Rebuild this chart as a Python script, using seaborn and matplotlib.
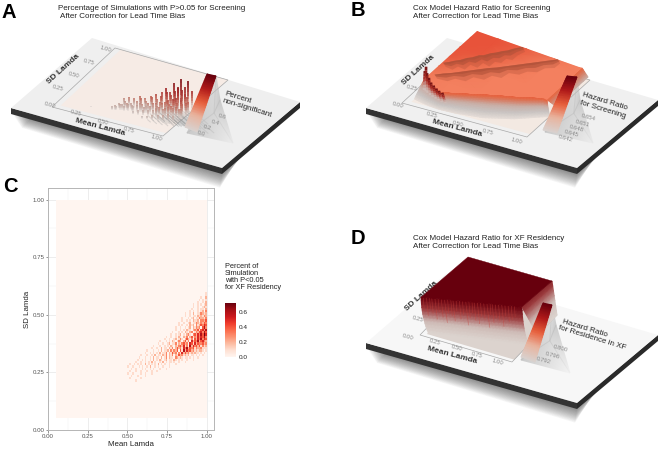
import numpy as np
import pandas as pd
import matplotlib
matplotlib.use("Agg")
import matplotlib.pyplot as plt
from matplotlib.collections import LineCollection
from matplotlib.colors import LinearSegmentedColormap as LSC
from matplotlib.patches import Polygon
import seaborn as sns

sns.set_theme(style="white")
plt.rcParams["font.family"] = ["Liberation Sans", "DejaVu Sans"]

# ---------- data ----------
TICKS = [0.00, 0.25, 0.50, 0.75, 1.00]
TICK_LABELS = ["0.00", "0.25", "0.50", "0.75", "1.00"]

# Panel C: percent (x10) per cell; rows are SD 0.60 down to 0.22, columns right-aligned ending at mean 1.00
C_ROWS = [
 "1", "01", "1002", "10101", "0100102", "100101012", "0100100121", "1000101102", "0010100101203",
 "10010200113212", "010010110212132", "1000101201132213", "01001010211203324", "100100120113213243",
 "0101001021203124354", "10010010120213230463", "010010102110232414536", "1000101021023013245364",
 "010010120102310342536475",
 "10010010210213024132535463",
 "0100100120131024213042536354",
 "100010102101320241305243624532",
 "01001001201130213423054152433423",
 "1000100101021021342513062534241312",
 "010010020110213024231536243413223111",
 "10001001020112031324041625342312122101",
 "0100101010201130214230315242312121101010",
 "100010010201102130213021423121201101010100",
 "01000100102011020130211032121011010100100000",
 "0010010100102010210120110210101001000100000000",
 "000100100101020100102010110100100010000000000000",
 "01001010100201010102010100100010000000000000000000",
 "10010001010010200101001000100000000000000000000000",
 "00100100010100101000100010000000000000000000000000",
 "01000100100010010010000000000000000000000000000000",
 "10010000100100010000000000000000000000000000000000",
 "00100010000100000000000000000000000000000000000000",
 "01000000100000000000000000000000000000000000000000",
 "00000100000000000000000000000000000000000000000000",
]

# Panel A: spikes of percent non-significant
A_MEAN = [.27,.44,.46,.50,.50,.54,.55,.58,.60,.62,.65,.66,.70,.70,.74,.75,.78,.80,.81,.84,.85,.87,.90,.90,.92,.95,.95,.97,.99,1.0,
          .48,.52,.57,.61,.64,.68,.72,.76,.79,.83,.86,.89,.91,.94,.96,.98,
          .47,.51,.53,.56,.59,.63,.67,.69,.71,.73,.77,.79,.82,.84,.86,.88,.90,.92,.94,.96,.98,1.0,
          .62,.66,.70,.74,.78,.80,.82,.85,.87,.89,.91,.93,.95,.97,.99,
          .72,.76,.80,.84,.88,.92,.96]
A_SD = [.14,.17,.18,.20,.26,.27,.22,.28,.23,.30,.25,.31,.33,.26,.34,.28,.36,.30,.37,.38,.32,.40,.40,.34,.42,.43,.36,.44,.46,.38,
        .22,.24,.25,.27,.28,.29,.31,.32,.33,.35,.36,.37,.38,.39,.40,.41,
        .19,.21,.20,.22,.23,.24,.25,.24,.27,.26,.28,.27,.29,.30,.31,.30,.32,.33,.32,.34,.33,.35,
        .19,.20,.21,.22,.23,.24,.25,.25,.26,.27,.28,.28,.29,.29,.30,
        .16,.17,.18,.19,.20,.22,.23]
A_PCT = [.015,.06,.08,.10,.13,.16,.12,.15,.09,.19,.13,.17,.20,.11,.24,.16,.27,.18,.34,.28,.20,.42,.36,.24,.49,.37,.26,.47,.30,.20,
         .09,.12,.10,.14,.18,.15,.21,.19,.25,.31,.27,.33,.40,.35,.29,.24,
         .06,.09,.08,.10,.09,.11,.13,.10,.15,.12,.17,.14,.19,.20,.23,.18,.26,.28,.22,.26,.20,.22,
         .05,.07,.08,.10,.11,.13,.15,.13,.16,.17,.19,.16,.18,.15,.16,
         .05,.06,.08,.09,.10,.11,.10]

# Panel B: surface outline and hazard-ratio colour table
B_EDGE_MEAN = [.05,.15,.26,.40,.60,.80,.96,1.0]
B_EDGE_SD = [.26,.20,.16,.23,.33,.42,.50,.50]
B_FOOT_SD = [.10,.07,.05,.06,.10,.20,.33,.36]
B_GRID_MEAN = [.05,.25,.50,.75,1.0]
B_GRID_SD = [.15,.30,.45,.60,.75,.90,1.0]
B_COLOR = [[.70,.72,.80,.88,.90,.90,.90],
           [.70,.70,.72,.80,.88,.90,.90],
           [.70,.70,.70,.70,.75,.82,.85],
           [.70,.70,.70,.70,.70,.70,.75],
           [.70,.70,.70,.70,.70,.70,.70]]
B_BAND1_MEAN = [.06,.09,.12,.15,.18,.21,.24,.27,.30,.33,.36,.39,.42,.46]
B_BAND1_SD = [.50,.53,.57,.60,.65,.68,.73,.75,.80,.83,.87,.90,.95,1.0]
B_BAND1_W = [.05,.09,.07,.11,.08,.12,.09,.13,.10,.12,.09,.11,.08,.06]
B_BAND2_MEAN = [.09,.14,.19,.24,.29,.34,.39,.44,.49,.54,.59,.64,.69,.74,.78]
B_BAND2_SD = [.33,.38,.42,.47,.52,.57,.62,.66,.71,.76,.81,.86,.91,.96,1.0]
B_BAND2_W = [.05,.09,.07,.11,.08,.12,.09,.12,.08,.11,.09,.11,.08,.09,.05]

# Panel D: block outline and wall streak strength along Mean Lamda
D_EDGE_MEAN = [.05,1.0]
D_EDGE_SD = [.33,.57]
D_FOOT_SD = [.08,.36]
D_STREAK_MEAN = [.07,.10,.13,.15,.18,.21,.24,.27,.30,.33,.35,.38,.41,.44,.47,.50,.53,.55,.58,.61,.64,.67,.70,.72,.75,.78,.81,.84,.87,.90,.93]
D_STREAK_LEN = [.5,.7,.4,.6,.8,.5,.7,.9,.5,.6,.8,.4,.7,.5,.9,.6,.4,.7,.8,.5,.6,.9,.4,.7,.5,.6,.8,.4,.6,.5,.4]

HR_B = ["0.654", "0.651", "0.648", "0.645", "0.642"]
HR_D = ["0.800", "0.796", "0.792"]
PCT_A = ["0.6", "0.4", "0.2", "0.0"]

# ---------- colour maps ----------
RIBBON = LSC.from_list("ribbon", ["#d9d2cf", "#e8b5a0", "#e8603c", "#b01a1a", "#67000d"])
SPIKE = LSC.from_list("spike", [(0, "#cfcbc9"), (.15, "#c4a59c"), (.3, "#c26a5c"), (.5, "#a83230"), (1, "#67000d")])
BWALL = LSC.from_list("bwall", [(0, "#e6ddd8"), (.3, "#c8c3c1"), (.55, "#c9b0a8"), (.78, "#d87a60"), (.9, "#e8663f"), (1, "#e8533a")])
BTOP = LSC.from_list("btop", [(0, "#f6906f"), (.7, "#f4805f"), (.8, "#ea6a4a"), (.9, "#e8533a"), (1, "#e04a32")])
DWALL = LSC.from_list("dwall", [(0, "#dcd4cf"), (.35, "#cfbdb8"), (.7, "#9c3a3c"), (1, "#67000d")])
GREY = LSC.from_list("grey", [(0, (.75, .75, .75, 0)), (1, (.75, .75, .75, .95))])

fig = plt.figure(figsize=(6.69, 4.53), dpi=100)
ax = fig.add_axes([0, 0, 1, 1], zorder=3)
ax.set_axis_off()
ax.patch.set_alpha(0)


def projector(base, top):
    base, top = np.array(base, float), np.array(top, float)

    def P(u, v, z=0.0):
        u, v, z = np.asarray(u, float), np.asarray(v, float), np.asarray(z, float)
        w = [(1-u)*(1-v), u*(1-v), u*v, (1-u)*v]
        b = sum(w[i][..., None]*base[i] for i in range(4))
        t = sum(w[i][..., None]*top[i] for i in range(4))
        return b*(1-z)[..., None] + t*z[..., None]
    return P


def board(left, front, right, back, face):
    L, F, R, K = map(np.array, (left, front, right, back))
    for k in range(1, 22):
        d = np.array([-0.1*k, 4+k*.75])
        inset = np.array([[k*.6, 0], [0, 0], [-k*1.6, -k*.3], [0, 0]])
        ax.add_patch(Polygon(np.array([L, F, R, K])+d+inset, fc="k", ec="none", alpha=.03, zorder=1))
    e = np.array([0, 6])
    ax.add_patch(Polygon([L, F, F+e, L+e], fc="#333333", ec="none", zorder=2))
    ax.add_patch(Polygon([F, R, R+e, F+e], fc="#2a2a2a", ec="none", zorder=2))
    ax.add_patch(Polygon([L, F, R, K], fc=face, ec="none", zorder=2))


def frame(P, tile):
    uu = [.05, 1, 1, .05]
    vv = [.05, .05, 1, 1]
    ax.add_patch(Polygon(P(uu, vv), fc=tile, ec="none", zorder=3))
    ax.add_patch(Polygon(P([0, 1, 1, 0], [0, 0, 1, 1]), fc="none", ec="#a8a8a8", lw=.5, zorder=3))


def grey_quad(q1, q2, q3, q4, z=4):
    X = np.array([[q1[0], q2[0]], [q3[0], q4[0]]], float)
    Y = np.array([[q1[1], q2[1]], [q3[1], q4[1]]], float)
    ax.pcolormesh(X, Y, np.array([[.45, .85], [.85, .05]]), shading="gouraud", cmap=GREY, vmin=0, vmax=1, zorder=z)


def ribbon(bl, br, tl, tr, z=7):
    t = np.linspace(0, 1, 24)[:, None]
    s = np.array([[0., 1.]])
    bl, br, tl, tr = map(np.array, (bl, br, tl, tr))
    X = (bl[0]*(1-s)+br[0]*s)*(1-t)+(tl[0]*(1-s)+tr[0]*s)*t
    Y = (bl[1]*(1-s)+br[1]*s)*(1-t)+(tl[1]*(1-s)+tr[1]*s)*t
    ax.pcolormesh(X, Y, t*np.ones((1, 2)), shading="gouraud", cmap=RIBBON, vmin=0, vmax=1, zorder=z)


def txt(x, y, s, rot=-15, size=6.2, color="#222222", weight="normal", z=8, **kw):
    ax.text(x, y, s, rotation=rot, rotation_mode="anchor", ha=kw.pop("ha", "center"), va="center",
            fontsize=size, color=color, fontweight=weight, zorder=z, **kw)


def tick_text(positions, labels, rot=-15, z=3.5):
    for (x, y), s in zip(positions, labels):
        txt(x, y, s, rot=rot, size=4.3, color="#8a8a8a", z=z)


# ---------- Panel A ----------
board((11, 108), (222, 168), (300, 102), (92, 38), "#efefef")
PA = projector([(52, 107), (163, 136), (228, 80), (115, 48)],
               [(52, 62), (163, 91), (228, 35), (115, 3)])
frame(PA, "#f6ebe5")
tick_text([(50, 105), (76, 113), (103, 122), (129, 130), (157, 138)], TICK_LABELS)
tick_text([(58, 88), (74, 75), (89, 62), (106, 49)], TICK_LABELS[1:])
txt(100, 127, "Mean Lamda", size=6.0, weight="bold", color="#333333")
txt(63, 69, "SD Lamda", rot=42, size=6.0, weight="bold", color="#333333")

A_m, A_s, A_p = map(np.array, (A_MEAN, A_SD, A_PCT))
order = np.argsort(-A_s)
shadow = []
for i in order[A_m[order] > .72]:
    p0 = PA(A_m[i], A_s[i])
    shadow.append([p0, p0+np.array([A_p[i]*55, A_p[i]*48])])
ax.add_collection(LineCollection(shadow, colors="#9a9a9a", linewidths=.8, alpha=.3, zorder=3.6))
for i in order:
    fr = np.linspace(0, 1, 9)
    pts = PA(np.full(9, A_m[i]), np.full(9, A_s[i]), fr*A_p[i]/.72)
    segs = np.stack([pts[:-1], pts[1:]], axis=1)
    cols = SPIKE((fr[1:]*A_p[i]/.72)*1.15)
    cols[:, 3] = np.clip(.2+fr[1:]*1.2, 0, 1)
    ax.add_collection(LineCollection(segs, colors=cols, linewidths=1.25, capstyle="butt", zorder=5))
grey_quad((216, 76), (220, 100), (187, 133), (233, 143))
ribbon((185, 127), (197, 132), (207, 74), (216, 76))
tick_text([(222, 117), (215, 123), (207, 128), (201, 134)], PCT_A, z=8)
txt(238, 97.5, "Percent", size=5.8, rot=-17)
txt(247, 108, "non-significant", size=5.8, rot=-17)

# ---------- Panel B ----------
board((366, 108), (577, 168), (658, 100), (447, 38), "#f0f0f0")
PB = projector([(402, 103), (527, 137), (590, 80), (465, 45)],
               [(401.5, 92), (512, 131), (582, 68), (471.5, 29)])
frame(PB, "#f3e9e2")
tick_text([(398, 105), (432, 115), (458, 124), (488, 132), (517, 141)], TICK_LABELS)
tick_text([(412, 88)], ["0.25"])
txt(457, 128, "Mean Lamda", size=6.0, weight="bold", color="#333333")
txt(418, 70, "SD Lamda", rot=42, size=6.0, weight="bold", color="#333333")

u_b = np.linspace(.05, 1, 48)
ve_b = np.interp(u_b, B_EDGE_MEAN, B_EDGE_SD)
vb_b = np.interp(u_b, B_EDGE_MEAN, B_FOOT_SD)
t = np.linspace(0, 1, 14)[:, None]
W = PB(u_b[None, :]*np.ones_like(t), vb_b[None, :]+(ve_b-vb_b)[None, :]*t, t*np.ones((1, 48)))
ax.pcolormesh(W[..., 0], W[..., 1], t*np.ones((1, 48))*.93, shading="gouraud", cmap=BWALL, vmin=0, vmax=1, zorder=5)
# right side wall
v_r = np.linspace(.5, 1, 8)
Wr = PB(np.ones((6, 8)), np.ones((6, 1))*v_r[None, :], np.linspace(.25, 1, 6)[:, None]*np.ones((1, 8)))
ax.pcolormesh(Wr[..., 0], Wr[..., 1], np.linspace(.55, .9, 6)[:, None]*np.ones((1, 8)), shading="gouraud", cmap=BWALL,
              vmin=0, vmax=1, zorder=5)
# flat top coloured from the table
gu, gv = np.meshgrid(np.array(B_GRID_MEAN), np.array(B_GRID_SD), indexing="ij")
T = PB(gu, gv, np.ones_like(gu))
outline = np.vstack([PB(u_b, ve_b, np.ones(48)), PB(np.array([1., .05]), np.array([1., 1.]), np.ones(2))])
clip = Polygon(outline, transform=ax.transData, fc="none", ec="none")
mesh = ax.pcolormesh(T[..., 0], T[..., 1], np.array(B_COLOR), shading="gouraud", cmap=BTOP, vmin=0, vmax=1, zorder=6)
mesh.set_clip_path(clip)
for bm, bs, bw in ((B_BAND1_MEAN, B_BAND1_SD, B_BAND1_W), (B_BAND2_MEAN, B_BAND2_SD, B_BAND2_W)):
    bm, bs, bw = map(np.array, (bm, bs, bw))
    upper = PB(bm, bs, np.ones_like(bm))
    for f, al in ((1.5, .3), (.85, .55), (.4, .6)):
        lower = PB(np.minimum(bm+bw*f*.6, 1), bs-bw*f*.6+.01, np.ones_like(bm))
        ax.add_patch(Polygon(np.vstack([upper, lower[::-1]]), fc="#ad5038", ec="none", alpha=al, zorder=6.2))
# dark peak at the left end of the wall
pk_m = np.array([.05, .07, .09, .12, .15, .18, .21, .24, .27])
pk_z = np.array([1.6, 2.1, 1.7, 1.5, 1.3, 1.2, 1.1, 1.05, 1.0])
pk_s = np.interp(pk_m, B_EDGE_MEAN, B_EDGE_SD)-.01
pk_cmap = LSC.from_list("p", ["#d4cdca", "#c9a199", "#b23028", "#7a1515"])
for m, s, z in zip(pk_m, pk_s, pk_z):
    fr = np.linspace(0, 1, 8)
    pts = PB(np.full(8, m), np.full(8, s), fr*z)
    segs = np.stack([pts[:-1], pts[1:]], axis=1)
    ax.add_collection(LineCollection(segs, colors=pk_cmap(fr[1:]), linewidths=1.9, capstyle="butt", zorder=6.4))
grey_quad((577, 78), (580, 100), (545, 132), (593, 143))
ribbon((543, 130), (557, 133), (567, 76), (577, 77))
tick_text([(588, 117), (582, 123), (576, 128), (571, 133), (565, 138)], HR_B, z=8)
txt(605, 101, "Hazard Ratio", size=5.8, rot=-17)
txt(603, 110, "for Screening", size=5.8, rot=-17)

# ---------- Panel D ----------
board((366, 343), (577, 403), (658, 335), (447, 273), "#f7f7f7")
PD = projector([(420, 335), (512, 362), (557, 315), (465, 288)],
               [(393.6, 315.7), (482, 341), (552, 281), (463.6, 255.7)])
frame(PD, "#dcd3ce")
tick_text([(408, 337), (435, 342), (457, 348), (477, 355), (498, 362)], TICK_LABELS)
tick_text([(418, 319)], ["0.25"])
txt(452, 355, "Mean Lamda", size=6.0, weight="bold", color="#333333")
txt(421, 296, "SD Lamda", rot=42, size=6.0, weight="bold", color="#333333", z=3.5)

u_d = np.linspace(.05, 1, 30)
ve_d = np.interp(u_d, D_EDGE_MEAN, D_EDGE_SD)
vb_d = np.interp(u_d, D_EDGE_MEAN, D_FOOT_SD)
t = np.linspace(0, 1, 12)[:, None]
W = PD(u_d[None, :]*np.ones_like(t), vb_d[None, :]+(ve_d-vb_d)[None, :]*t, t*np.ones((1, 30)))
ax.pcolormesh(W[..., 0], W[..., 1], t*np.ones((1, 30)), shading="gouraud", cmap=DWALL, vmin=0, vmax=1, zorder=5)
v_r = np.linspace(.57, 1, 6)
Wr = PD(np.ones((8, 6)), np.ones((8, 1))*v_r[None, :], np.linspace(0, 1, 8)[:, None]*np.ones((1, 6)))
ax.pcolormesh(Wr[..., 0], Wr[..., 1], np.linspace(0, .8, 8)[:, None]*np.ones((1, 6)), shading="gouraud", cmap=DWALL,
              vmin=0, vmax=1, zorder=5)
for m, ln in zip(D_STREAK_MEAN, D_STREAK_LEN):
    s = np.interp(m, D_EDGE_MEAN, D_EDGE_SD)
    b = np.interp(m, D_EDGE_MEAN, D_FOOT_SD)
    z0 = 1-ln*.7
    p = PD(np.array([m, m]), np.array([b+(s-b)*z0, s]), np.array([z0, 1.]))
    ax.plot(p[:, 0], p[:, 1], color="#c8413a", lw=.5, alpha=.45, solid_capstyle="butt", zorder=5.2)
top = PD(np.array([.05, 1, 1, .05]), np.array([.33, .57, 1, 1]), np.ones(4))
ax.add_patch(Polygon(top, fc="#67000d", ec="#67000d", lw=.3, zorder=6))
grey_quad((552, 305), (556, 325), (521, 360), (570, 373))
ribbon((521, 357), (535, 362), (543, 303), (552, 305))
tick_text([(560, 349), (552, 355), (543, 361)], HR_D, z=8)
txt(585, 328, "Hazard Ratio", size=5.8, rot=-17)
txt(592, 338, "for Residence in XF", size=5.8, rot=-17)

# ---------- titles and panel letters ----------
for x, y, s in ((58, 8, "Percentage of Simulations with P>0.05 for Screening"),
                (60, 17, "After Correction for Lead Time Bias"),
                (413, 8, "Cox Model Hazard Ratio for Screening"),
                (413, 17, "After Correction for Lead Time Bias"),
                (413, 238, "Cox Model Hazard Ratio for XF Residency"),
                (413, 247, "After Correction for Lead Time Bias")):
    txt(x, y, s, rot=0, size=5.8, ha="left", color="#222222")
for x, y, s in ((2, 13, "A"), (351, 11, "B"), (3, 186, "C"), (351, 239, "D")):
    txt(x, y, s, rot=0, size=14.5, weight="bold", ha="left", color="#000000")

ax.set_xlim(0, 669)
ax.set_ylim(453, 0)

# ---------- Panel C (seaborn heatmap) ----------
step = 0.01
n = int(round(.95/step))
grid = np.zeros((n, n))
for r, row in enumerate(C_ROWS):
    sd = .60-step*r
    for c, ch in enumerate(row.zfill(50)):
        mean = .51+step*c
        grid[int(round((sd-.05)/step))-1, int(round((mean-.05)/step))-1] = int(ch)/10
means = .05+step*(np.arange(n)+.5)
sds = .05+step*(np.arange(n)+.5)
frame_c = pd.DataFrame(grid, index=np.round(sds, 4), columns=np.round(means, 4))

W_, H_ = 669., 453.
axc = fig.add_axes([48/W_, 1-430/H_, 166/W_, 242/H_], zorder=2)
cax = fig.add_axes([225/W_, 1-357/H_, 10.5/W_, 54/H_], zorder=2)
sns.heatmap(frame_c, ax=axc, cbar_ax=cax, cmap="Reds", vmin=0, vmax=.72, xticklabels=False, yticklabels=False,
            cbar_kws={"ticks": [0, .2, .4, .6]})


def to_idx(v):
    return (np.asarray(v)-.05)/step


axc.set_xlim(to_idx(0), to_idx(1.045))
axc.set_ylim(to_idx(0), to_idx(1.05))
axc.set_xticks(to_idx(TICKS), TICK_LABELS)
axc.set_yticks(to_idx(TICKS), TICK_LABELS)
axc.set_xticks(to_idx([.125, .375, .625, .875]), minor=True)
axc.set_yticks(to_idx([.125, .375, .625, .875]), minor=True)
axc.tick_params(axis="both", which="major", labelsize=4.4, labelcolor="#555555", length=1.8, width=.4, color="#444444",
                pad=.8, bottom=True, left=True, labelrotation=0)
axc.tick_params(axis="both", which="minor", length=0)
axc.set_axisbelow(True)
axc.grid(True, which="major", color="#e6e6e6", lw=.5)
axc.grid(True, which="minor", color="#f0f0f0", lw=.3)
for sp in axc.spines.values():
    sp.set_visible(True)
    sp.set_color("#b5b5b5")
    sp.set_linewidth(.7)
axc.set_xlabel("Mean Lamda", fontsize=5.7, color="#222222", labelpad=1.5)
axc.set_ylabel("SD Lamda", fontsize=5.7, color="#222222", labelpad=1.0)
cax.tick_params(labelsize=4.6, length=0, pad=2.5, labelcolor="#222222")
cax.set_yticks([0, .2, .4, .6], ["0.0", "0.2", "0.4", "0.6"])
fig.text(225/W_, 1-277/H_, "Percent of\nSimulation\nwith P<0.05\nfor XF Residency", fontsize=5.3, color="#222222",
         va="center", ha="left", linespacing=.98)

fig.savefig("out.png", dpi=100)
